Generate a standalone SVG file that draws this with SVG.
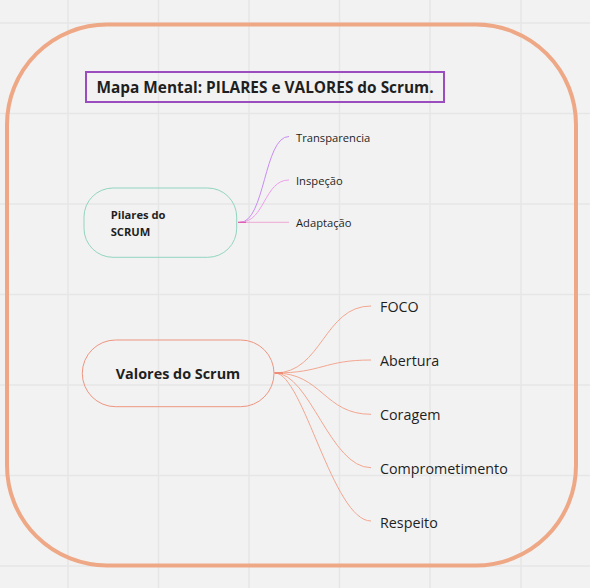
<svg xmlns="http://www.w3.org/2000/svg" width="590" height="588" viewBox="0 0 590 588">
<style>
.grid line{stroke:#E6E6E6;stroke-width:1.5}
.t{font-family:"Open Sans","Liberation Sans",sans-serif;fill:#1f1f1f}
.b{font-weight:700}
.sm{font-size:11.2px}
.md{font-size:14.3px}
.conn path{fill:none;stroke-width:1}
.v{stroke:#F2A690}
</style>
<rect width="590" height="588" fill="#F2F2F2"/>
<g class="grid">
<line x1="68" y1="0" x2="68" y2="588"/>
<line x1="158.5" y1="0" x2="158.5" y2="588"/>
<line x1="249" y1="0" x2="249" y2="588"/>
<line x1="339.5" y1="0" x2="339.5" y2="588"/>
<line x1="430" y1="0" x2="430" y2="588"/>
<line x1="521" y1="0" x2="521" y2="588"/>
<line x1="0" y1="23" x2="590" y2="23"/>
<line x1="0" y1="113.5" x2="590" y2="113.5"/>
<line x1="0" y1="204" x2="590" y2="204"/>
<line x1="0" y1="294.5" x2="590" y2="294.5"/>
<line x1="0" y1="385" x2="590" y2="385"/>
<line x1="0" y1="475.5" x2="590" y2="475.5"/>
<line x1="0" y1="566" x2="590" y2="566"/>
</g>
<g id="frame">
<rect x="7" y="24.5" width="569" height="541" rx="100" ry="100" fill="none" stroke="#EEA886" stroke-width="4"/>
</g>
<g id="title">
<rect x="86" y="72" width="358" height="30" fill="none" stroke="#9B4DBF" stroke-width="2"/>
<text class="t b" x="96.5" y="92.7" font-size="15.4">Mapa Mental: PILARES e VALORES do Scrum.</text>
</g>
<g class="conn" id="connectors">
<path d="M240,222.3 C265,222.3 264,136.5 289,136.5" stroke="#C78CF2"/>
<path d="M240,222.3 C265,222.3 264,180 289,180" stroke="#EE9EEA"/>
<path d="M238,222.3 L289,222.3" stroke="#EFA8D4" stroke-width="2"/>
<path d="M238,222.3 L246,222.3" stroke="#E048A8" stroke-width="1.5"/>
<path class="v" d="M275,373 C322,373 324,306 371,306"/>
<path class="v" d="M275,373 C322,373 324,360 371,360"/>
<path class="v" d="M275,373 C322,373 324,414.3 371,414.3"/>
<path class="v" d="M275,373 C310,373 330,467.7 371,467.7"/>
<path class="v" d="M275,373 C303,373 333,521 371,521"/>
<path d="M274,373 L283,373" stroke="#E8705A" stroke-width="1.2"/>
</g>
<g id="pilares">
<rect x="84" y="188" width="152.7" height="69.3" rx="29" ry="29" fill="none" stroke="#93D4C0" stroke-width="1"/>
<text class="t b" x="110.7" y="219" font-size="11.2">Pilares do</text>
<text class="t b" x="110.7" y="235.7" font-size="11.2">SCRUM</text>
</g>
<g id="transparencia"><text class="t sm" x="296" y="141.7">Transparencia</text></g>
<g id="inspecao"><text class="t sm" x="296" y="185">Inspeção</text></g>
<g id="adaptacao"><text class="t sm" x="296" y="227.3">Adaptação</text></g>
<g id="valores">
<rect x="82.3" y="340" width="191.7" height="66.7" rx="33.3" ry="33.3" fill="none" stroke="#EE9580" stroke-width="1"/>
<text class="t b" x="178" y="379" font-size="14.4" text-anchor="middle">Valores do Scrum</text>
</g>
<g id="foco"><text class="t md" x="380" y="311.7">FOCO</text></g>
<g id="abertura"><text class="t md" x="380" y="365.7">Abertura</text></g>
<g id="coragem"><text class="t md" x="380" y="420">Coragem</text></g>
<g id="comprometimento"><text class="t md" x="380" y="473.7">Comprometimento</text></g>
<g id="respeito"><text class="t md" x="380" y="527.7">Respeito</text></g>
</svg>
